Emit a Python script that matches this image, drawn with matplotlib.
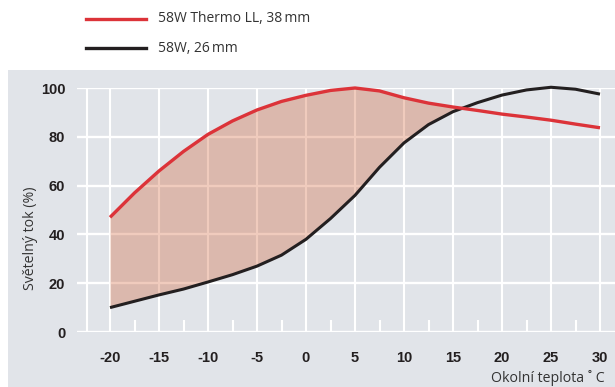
#!/usr/bin/env python3

"""
Luminous flux vs. ambient temperature, two fluorescent tubes.
"""

import matplotlib

matplotlib.use("Agg")

import numpy as np
import matplotlib.pyplot as plt
from matplotlib.lines import Line2D
from matplotlib.patches import Rectangle


# data
temps = [-20, -17.5, -15, -12.5, -10, -7.5, -5, -2.5, 0, 2.5, 5, 7.5,
         10, 12.5, 15, 17.5, 20, 22.5, 25, 27.5, 30]
thermo_ll = [47, 57, 66, 74, 81, 86.5, 91, 94.5, 97, 99, 100, 98.8,
             96, 93.8, 92.2, 90.8, 89.3, 88.1, 86.8, 85.2, 83.7]
t8_26mm = [10, 12.6, 15.2, 17.6, 20.5, 23.5, 27, 31.5, 38, 46.5, 56, 67.5,
           77.5, 85, 90.3, 94, 97.1, 99.2, 100.3, 99.5, 97.5]

x_ticks = [-20, -15, -10, -5, 0, 5, 10, 15, 20, 25, 30]
y_ticks = [0, 20, 40, 60, 80, 100]

series_labels = ["58W Thermo LL, 38\u2009mm", "58W, 26\u2009mm"]
xlabel = "Okolní teplota ˚ C"
ylabel = "Světelný tok (%)"

RED = "#dc3339"
BLACK = "#231f20"
PANEL = "#e1e4e9"
FILL = "#cf5525"

W, H = 615, 387


def fx(px):
    return px / W


def fy(py):
    return 1 - py / H


fig = plt.figure(figsize=(W / 100, H / 100), dpi=100)

# grey panel behind the chart
fig.patches.append(Rectangle((fx(8), 0), 1 - fx(8), fy(70), transform=fig.transFigure,
                             facecolor=PANEL, edgecolor="none", zorder=-10))

# plot area: x=-20 at 110px, x=30 at 600px, y=0 at 332px, y=100 at 88px
px_per_unit = (600 - 110) / 50
xmin = -20 - (110 - 75) / px_per_unit
xmax = 30 + (615 - 600) / px_per_unit
ax = fig.add_axes([fx(75), fy(332), 1 - fx(75), fy(88) - fy(332)])
ax.set_xlim(xmin, xmax)
ax.set_ylim(0, 100)
ax.patch.set_visible(False)
for s in ax.spines.values():
    s.set_visible(False)
ax.tick_params(length=0)

# white grid
x_left = -20 - (110 - 77) / px_per_unit
ax.hlines(y_ticks, x_left, xmax, colors="white", lw=1.7, zorder=1)
vlines = [-20 - (110 - 87) / px_per_unit] + x_ticks
ax.vlines(vlines, 0, 100, colors="white", lw=1.5, zorder=1)
minor = [t + 2.5 for t in x_ticks[:-1]]
ax.vlines(minor, 0, 4.8, colors="white", lw=1.5, zorder=1)

t = np.array(temps)
a = np.array(thermo_ll)
b = np.array(t8_26mm)
ax.fill_between(t, a, b, where=a >= b, interpolate=True, color=FILL,
                alpha=0.3, lw=0, zorder=2)
ax.plot(t, b, color=BLACK, lw=2.2, solid_capstyle="butt", solid_joinstyle="round",
        zorder=3, clip_on=False)
ax.plot(t, a, color=RED, lw=2.4, solid_capstyle="butt", solid_joinstyle="round",
        zorder=4, clip_on=False)

ax.set_xticks(x_ticks)
ax.set_yticks(y_ticks)
tick_font = dict(family="Liberation Sans", weight="bold", size=10.5)
ax.set_xticklabels([str(v) for v in x_ticks], fontdict=tick_font, color=BLACK)
ax.set_yticklabels([str(v) for v in y_ticks], fontdict=tick_font, color=BLACK)
ax.tick_params(axis="x", pad=14)
ax.tick_params(axis="y", pad=7)

label_font = dict(family="Open Sans", size=10.2, color="#333333")
fig.text(fx(605), fy(378), xlabel, ha="right", va="center", **label_font)
fig.text(fx(30), fy(238), ylabel, ha="center", va="center", rotation=90, **label_font)

# legend above the panel
for py, col, lab in [(19, RED, series_labels[0]), (48, BLACK, series_labels[1])]:
    fig.add_artist(Line2D([fx(86), fx(146)], [fy(py), fy(py)], color=col, lw=2.4,
                          transform=fig.transFigure))
    fig.text(fx(158), fy(py), lab, ha="left", va="center", family="Open Sans",
             size=10, color="#333333")

fig.savefig("out.png", dpi=100)
